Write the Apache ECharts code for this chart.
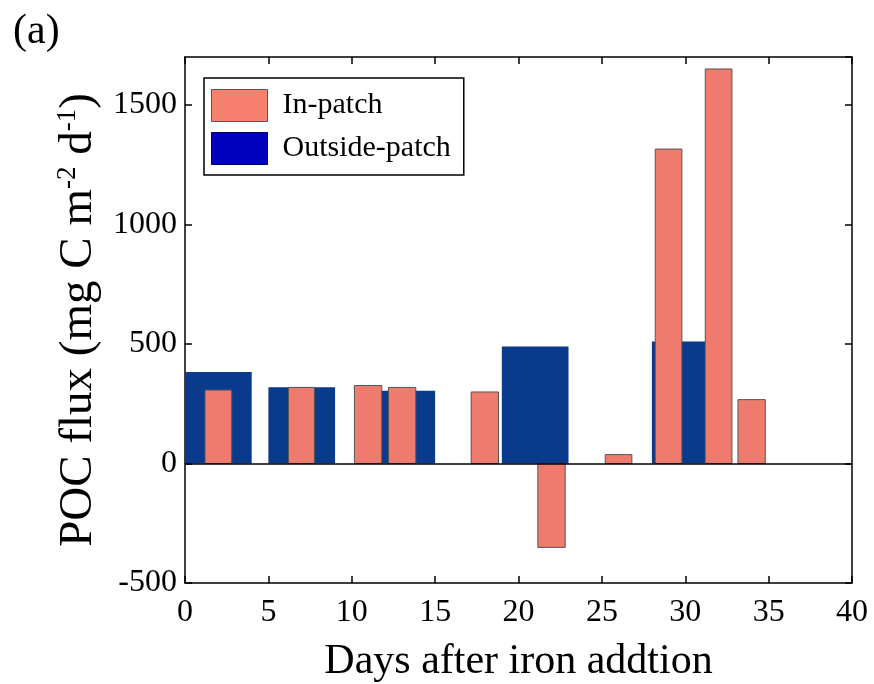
<!DOCTYPE html>
<html>
<head>
<meta charset="utf-8">
<script src="https://cdn.jsdelivr.net/npm/echarts@6/dist/echarts.min.js"></script>
<style>html,body{margin:0;padding:0;background:#fff}#c{width:874px;height:684px}</style>
</head>
<body>
<div id="c"></div>
<script>
// In-patch bars: start day, end day, POC flux
var inStart = [1.2, 6.2, 10.16, 12.2, 17.16, 21.16, 25.2, 28.2, 31.2, 33.16];
var inEnd   = [2.8, 7.76, 11.8, 13.84, 18.8, 22.8, 26.8, 29.8, 32.8, 34.8];
var inValue = [307, 318, 326, 318, 299, -351, 37, 1315, 1650, 267];
// Outside-patch bars
var outStart = [0, 5.0, 11.76, 19.0, 28.0];
var outEnd   = [4.0, 9.0, 15.0, 23.0, 31.2];
var outValue = [383, 319, 304, 489, 510];
// Axis ticks
var xTicks = [0, 5, 10, 15, 20, 25, 30, 35, 40];
var yTicks = [-500, 0, 500, 1000, 1500];

var FONT = "'Liberation Serif','Times New Roman',serif";
function build(s, e, v) {
  var d = [];
  for (var i = 0; i < s.length; i++) d.push([s[i], e[i], v[i]]);
  return d;
}
function rectItem(stroke) {
  return function (params, api) {
    var p0 = api.coord([api.value(0), 0]);
    var p1 = api.coord([api.value(1), api.value(2)]);
    var x = Math.min(p0[0], p1[0]), y = Math.min(p0[1], p1[1]);
    return {
      type: 'rect',
      shape: { x: x, y: y, width: Math.abs(p1[0] - p0[0]), height: Math.abs(p1[1] - p0[1]) },
      style: api.style(stroke ? { stroke: '#555', lineWidth: 1 } : { stroke: null })
    };
  };
}
var chart = echarts.init(document.getElementById('c'));
var axisLineStyle = { color: '#000', width: 1.5 };
chart.setOption({
  animation: false,
  backgroundColor: '#fff',
  textStyle: { fontFamily: FONT },
  title: { text: '(a)', left: 8, top: 6, textStyle: { fontFamily: FONT, fontSize: 42, fontWeight: 'normal', color: '#000' } },
  grid: { left: 185, right: 22, top: 57, bottom: 101, containLabel: false, outerBoundsMode: 'none' },
  legend: {
    orient: 'vertical', left: 204, top: 78,
    padding: [11, 13, 10, 7],
    itemWidth: 56, itemHeight: 32, itemGap: 10,
    borderColor: '#000', borderWidth: 1.5, backgroundColor: '#fff',
    textStyle: { fontFamily: FONT, fontSize: 30, color: '#000', padding: [0, 0, 0, 10] },
    data: [
      { name: 'In-patch', icon: 'rect', itemStyle: { color: '#F8806E', borderColor: '#555', borderWidth: 1 } },
      { name: 'Outside-patch', icon: 'rect', itemStyle: { color: '#0000C0', borderColor: '#000060', borderWidth: 1 } }
    ]
  },
  xAxis: [{
    type: 'value', min: xTicks[0], max: xTicks[xTicks.length - 1], interval: 5,
    name: 'Days after iron addtion', nameLocation: 'middle', nameGap: 58,
    nameTextStyle: { fontFamily: FONT, fontSize: 42, color: '#000' },
    axisLine: { show: true, onZero: false, lineStyle: axisLineStyle },
    axisTick: { show: true, inside: true, length: 7, lineStyle: { color: '#000', width: 1.5 } },
    axisLabel: { fontFamily: FONT, fontSize: 32, color: '#000', margin: 14 },
    splitLine: { show: false }
  }, {
    type: 'value', min: xTicks[0], max: xTicks[xTicks.length - 1], interval: 5, position: 'top',
    axisLine: { show: true, onZero: false, lineStyle: axisLineStyle },
    axisTick: { show: true, inside: true, length: 7, lineStyle: { color: '#000', width: 1.5 } },
    axisLabel: { show: false }, splitLine: { show: false }
  }],
  yAxis: [{
    type: 'value', min: yTicks[0], max: 1700, interval: 500,
    name: 'POC flux (mg C m{sup|-2} d{sup|-1})', nameLocation: 'middle', nameGap: 70,
    nameTextStyle: { fontFamily: FONT, fontSize: 47, color: '#000', rich: { sup: { fontFamily: FONT, fontSize: 27, verticalAlign: 'top', padding: [0, 0, 21, 0], color: '#000' } } },
    axisLine: { show: true, onZero: false, lineStyle: axisLineStyle },
    axisTick: { show: true, inside: true, length: 7, lineStyle: { color: '#000', width: 1.5 } },
    axisLabel: { fontFamily: FONT, fontSize: 32, color: '#000', margin: 8, showMaxLabel: false, formatter: function (v) { return String(v); } },
    splitLine: { show: false }
  }, {
    type: 'value', min: yTicks[0], max: 1700, interval: 500, position: 'right',
    axisLine: { show: true, onZero: false, lineStyle: axisLineStyle },
    axisTick: { show: true, inside: true, length: 7, lineStyle: { color: '#000', width: 1.5 } },
    axisLabel: { show: false }, splitLine: { show: false }
  }],
  series: [{
    name: 'Outside-patch', type: 'custom', z: 2,
    itemStyle: { color: '#0A3A8C' },
    renderItem: rectItem(false),
    encode: { x: [0, 1], y: 2 },
    data: build(outStart, outEnd, outValue)
  }, {
    name: 'In-patch', type: 'custom', z: 3,
    itemStyle: { color: '#EF7B6F' },
    renderItem: rectItem(true),
    encode: { x: [0, 1], y: 2 },
    data: build(inStart, inEnd, inValue),
    markLine: {
      silent: true, symbol: 'none', label: { show: false },
      lineStyle: { color: '#000', width: 1.5, type: 'solid' },
      data: [{ yAxis: 0 }]
    }
  }]
});
</script>
</body>
</html>
